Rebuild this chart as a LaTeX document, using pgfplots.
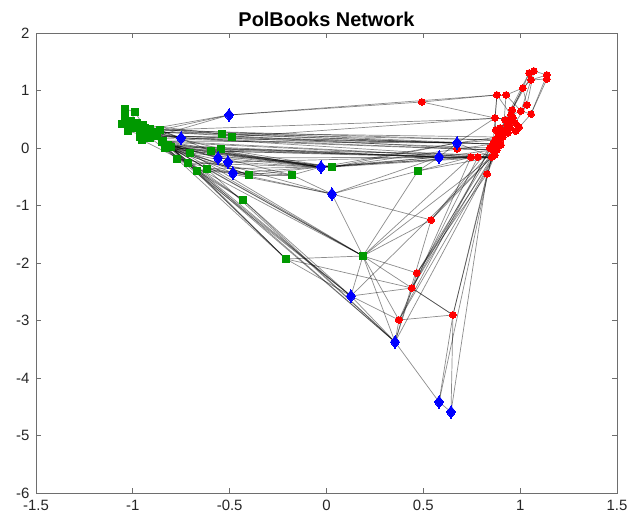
\documentclass[border=0pt]{standalone}
\usepackage{pgfplots}
\pgfplotsset{compat=1.18}
\usepackage{fontspec}
\setmainfont{Liberation Sans}
\definecolor{gnode}{RGB}{0,153,0}
\definecolor{rnode}{RGB}{255,0,0}
\definecolor{bnode}{RGB}{0,0,255}
\definecolor{axgray}{RGB}{110,110,110}
\begin{document}
\begin{tikzpicture}
\begin{axis}[
  at={(0,0)}, anchor=south west,
  scale only axis, width=581bp, height=460bp,
  xmin=-1.5, xmax=1.5, ymin=-6, ymax=2,
  xtick={-1.5,-1,-0.5,0,0.5,1,1.5},
  ytick={-6,-5,-4,-3,-2,-1,0,1,2},
  tick align=inside, major tick length=5bp,
  axis line style={draw=axgray, line width=0.8bp},
  tick style={draw=axgray, line width=0.8bp},
  /pgf/number format/assume math mode=true,
  ticklabel style={font=\fontsize{15}{17}\selectfont, text=black!85},
  xticklabel style={yshift=-4bp},
  yticklabel style={xshift=-3bp},
  title={PolBooks Network},
  title style={font=\fontsize{20}{23}\selectfont\bfseries, yshift=-3bp},
  clip=true,
]
% edges: x y -> x2 y2
\addplot[no markers, draw=black, draw opacity=0.45, line width=0.7bp,
  quiver={u=\thisrow{x2}-\thisrow{x}, v=\thisrow{y2}-\thisrow{y}}]
table {
x y x2 y2
-1.040 0.678 -0.989 0.626
-1.040 0.678 -1.040 0.539
-0.989 0.626 -1.009 0.470
-1.040 0.539 -1.009 0.470
-1.040 0.539 -1.056 0.417
-1.009 0.470 -0.978 0.435
-1.056 0.417 -1.020 0.400
-0.978 0.435 -0.947 0.400
-0.947 0.400 -0.911 0.330
-0.999 0.348 -0.963 0.296
-0.963 0.296 -0.927 0.226
-0.911 0.330 -0.860 0.313
-0.953 0.139 -0.927 0.226
-0.875 0.209 -0.896 0.278
-0.875 0.209 -0.844 0.122
-0.844 0.122 -0.823 0.035
-0.823 0.035 -0.834 0.000
-0.896 0.278 -0.860 0.313
-0.849 0.104 -0.818 0.052
-0.927 0.226 -0.911 0.174
-0.911 0.174 -0.963 0.191
-1.020 0.400 -0.999 0.348
-0.983 0.383 -0.937 0.348
-1.025 0.296 -0.963 0.296
-0.989 0.626 -0.947 0.400
-1.009 0.470 -0.896 0.278
-1.056 0.417 -0.875 0.209
-1.025 0.296 -0.844 0.122
-0.999 0.348 -0.849 0.104
-1.040 0.539 -0.860 0.313
-0.911 0.330 -0.751 0.174
-0.875 0.209 -0.751 0.174
-0.896 0.278 -0.751 0.174
-0.860 0.313 -0.751 0.174
-0.875 0.209 -0.705 -0.087
-0.844 0.122 -0.705 -0.087
-0.823 0.035 -0.772 -0.191
-0.818 0.052 -0.715 -0.261
-0.834 0.000 -0.669 -0.400
-0.803 0.017 -0.617 -0.365
-0.860 0.313 -0.596 -0.052
-0.896 0.278 -0.545 -0.017
-0.911 0.330 -0.540 0.243
-0.875 0.209 -0.488 0.191
-0.947 0.400 -0.540 0.243
-0.823 0.035 -0.545 -0.017
-0.927 0.226 -0.772 -0.191
-0.849 0.104 -0.617 -0.365
-0.953 0.139 -0.715 -0.261
-0.834 0.000 -0.400 -0.470
-0.818 0.052 -0.400 -0.470
-0.803 0.017 -0.400 -0.470
-0.772 -0.191 -0.715 -0.261
-0.715 -0.261 -0.669 -0.400
-0.669 -0.400 -0.617 -0.365
-0.596 -0.052 -0.545 -0.017
-0.540 0.243 -0.488 0.191
-0.617 -0.365 -0.400 -0.470
-0.844 0.122 -0.560 -0.174
-0.818 0.052 -0.560 -0.174
-0.834 0.000 -0.509 -0.243
-0.823 0.035 -0.483 -0.435
-0.560 -0.174 -0.028 -0.330
-0.509 -0.243 -0.028 -0.330
-0.483 -0.435 -0.400 -0.470
-0.483 -0.435 -0.028 -0.330
-0.509 -0.243 0.581 -0.157
-0.560 -0.174 0.854 -0.157
-0.911 0.330 -0.503 0.574
-0.860 0.313 -0.503 0.574
-0.875 0.209 -0.503 0.574
-0.503 0.574 0.493 0.800
-0.503 0.574 0.880 0.922
0.493 0.800 0.880 0.922
0.493 0.800 0.870 0.522
-0.488 0.191 0.870 0.522
-0.860 0.313 0.963 0.522
-0.911 0.330 0.860 0.070
-0.860 0.313 0.870 0.139
-0.896 0.278 0.885 0.191
-0.875 0.209 0.854 -0.157
-0.963 0.296 0.860 -0.035
-0.927 0.226 0.844 0.000
-0.540 0.243 0.870 0.139
-0.488 0.191 0.860 0.070
-0.545 -0.017 0.870 -0.122
-0.596 -0.052 0.854 -0.157
-0.875 0.209 0.674 0.087
-0.896 0.278 0.674 0.087
-0.844 0.122 0.674 0.087
-0.540 0.243 0.674 0.087
-0.823 0.035 0.581 -0.157
-0.818 0.052 0.581 -0.157
-0.834 0.000 0.581 -0.157
-0.596 -0.052 0.581 -0.157
-0.545 -0.017 0.581 -0.157
-0.849 0.104 0.746 -0.157
-0.844 0.122 0.782 -0.157
-0.911 0.174 0.674 -0.017
-0.751 0.174 0.860 -0.035
-0.751 0.174 0.674 0.087
-0.844 0.122 -0.028 -0.330
-0.823 0.035 -0.028 -0.330
-0.849 0.104 -0.028 -0.330
-0.818 0.052 -0.028 -0.330
-0.834 0.000 -0.028 -0.330
-0.803 0.017 -0.028 -0.330
-0.705 -0.087 -0.028 -0.330
-0.715 -0.261 -0.028 -0.330
-0.617 -0.365 -0.028 -0.330
-0.400 -0.470 -0.028 -0.330
-0.823 0.035 0.028 -0.330
-0.834 0.000 0.028 -0.330
-0.596 -0.052 0.028 -0.330
-0.545 -0.017 0.028 -0.330
-0.818 0.052 -0.178 -0.470
-0.772 -0.191 -0.178 -0.470
-0.669 -0.400 -0.178 -0.470
-0.400 -0.470 -0.178 -0.470
-0.178 -0.470 -0.028 -0.330
-0.178 -0.470 0.028 -0.800
-0.028 -0.330 0.674 0.087
-0.028 -0.330 0.581 -0.157
-0.028 -0.330 0.746 -0.157
-0.028 -0.330 0.782 -0.157
0.028 -0.330 0.674 0.087
0.028 -0.330 0.854 -0.157
0.028 -0.330 0.581 -0.157
0.028 -0.330 0.860 0.070
-0.028 -0.330 0.028 -0.330
0.472 -0.400 0.581 -0.157
0.472 -0.400 0.854 -0.157
0.472 -0.400 0.746 -0.157
0.472 -0.400 0.188 -1.878
0.028 -0.800 0.540 -1.252
0.028 -0.800 0.188 -1.878
0.028 -0.800 0.581 -0.157
0.028 -0.800 0.472 -0.400
-0.834 0.000 0.028 -0.800
-0.715 -0.261 0.028 -0.800
-0.617 -0.365 0.028 -0.800
-0.834 0.000 -0.431 -0.904
-0.823 0.035 -0.431 -0.904
-0.669 -0.400 -0.431 -0.904
-0.818 0.052 -0.209 -1.930
-0.834 0.000 -0.209 -1.930
-0.803 0.017 -0.209 -1.930
-0.669 -0.400 -0.209 -1.930
-0.844 0.122 0.188 -1.878
-0.823 0.035 0.188 -1.878
-0.715 -0.261 0.188 -1.878
-0.705 -0.087 0.188 -1.878
-0.617 -0.365 0.188 -1.878
-0.834 0.000 0.126 -2.574
-0.818 0.052 0.126 -2.574
-0.669 -0.400 0.126 -2.574
-0.431 -0.904 0.126 -2.574
-0.823 0.035 0.354 -3.374
-0.803 0.017 0.354 -3.374
-0.617 -0.365 0.354 -3.374
-0.431 -0.904 0.354 -3.374
-0.209 -1.930 0.188 -1.878
-0.209 -1.930 0.126 -2.574
-0.209 -1.930 0.441 -2.435
0.188 -1.878 0.467 -2.174
0.188 -1.878 0.374 -2.991
0.188 -1.878 0.126 -2.574
0.188 -1.878 0.354 -3.374
0.188 -1.878 0.540 -1.252
0.188 -1.878 0.746 -0.157
0.188 -1.878 0.854 -0.157
0.188 -1.878 0.653 -2.904
0.540 -1.252 0.854 -0.157
0.540 -1.252 0.860 0.070
0.467 -2.174 0.829 -0.452
0.467 -2.174 0.870 -0.122
0.467 -2.174 0.860 -0.035
0.441 -2.435 0.126 -2.574
0.441 -2.435 0.854 -0.157
0.441 -2.435 0.653 -2.904
0.441 -2.435 0.782 -0.157
0.374 -2.991 0.653 -2.904
0.374 -2.991 0.354 -3.374
0.374 -2.991 0.746 -0.157
0.374 -2.991 0.870 -0.122
0.374 -2.991 0.126 -2.574
0.653 -2.904 0.581 -4.417
0.653 -2.904 0.643 -4.591
0.653 -2.904 0.829 -0.452
0.653 -2.904 0.854 -0.157
0.354 -3.374 0.581 -4.417
0.581 -4.417 0.643 -4.591
0.581 -4.417 0.860 -0.035
0.643 -4.591 0.829 -0.452
0.354 -3.374 0.467 -2.174
0.354 -3.374 0.540 -1.252
0.126 -2.574 0.854 -0.157
0.354 -3.374 0.870 -0.122
0.844 0.000 0.374 -2.991
0.860 0.070 0.441 -2.435
0.880 0.052 0.540 -1.252
0.126 -2.574 0.354 -3.374
1.046 1.304 1.071 1.339
1.071 1.339 1.138 1.270
1.138 1.270 1.138 1.200
1.046 1.304 1.056 1.183
1.056 1.183 1.014 1.043
1.138 1.200 1.056 1.183
1.014 1.043 1.035 0.748
0.880 0.922 0.927 0.922
0.927 0.922 1.014 1.043
0.880 0.922 0.870 0.522
1.035 0.748 1.004 0.643
1.004 0.643 1.056 0.591
1.004 0.643 0.953 0.574
0.953 0.574 0.963 0.522
0.963 0.522 0.942 0.452
0.870 0.522 0.963 0.522
0.942 0.452 0.973 0.435
0.942 0.452 0.932 0.400
0.973 0.435 0.978 0.296
0.932 0.400 0.922 0.313
0.922 0.313 0.906 0.243
0.906 0.243 0.885 0.191
0.885 0.191 0.911 0.191
0.911 0.191 0.896 0.139
0.870 0.139 0.860 0.070
0.896 0.139 0.880 0.052
0.860 0.070 0.860 -0.035
0.880 0.052 0.870 -0.122
0.860 -0.035 0.854 -0.157
0.854 -0.157 0.746 -0.157
0.746 -0.157 0.782 -0.157
0.782 -0.157 0.870 -0.122
0.829 -0.452 0.870 -0.122
0.674 -0.017 0.674 0.087
0.674 -0.017 0.860 -0.035
0.958 0.661 1.014 1.043
0.958 0.661 0.953 0.574
0.922 0.487 0.942 0.452
0.947 0.348 0.896 0.348
0.937 0.261 0.911 0.191
0.875 0.313 0.906 0.243
0.994 0.365 0.978 0.296
0.901 0.052 0.880 0.052
0.880 -0.035 0.860 -0.035
0.844 0.000 0.860 0.070
1.056 0.591 0.978 0.296
1.138 1.270 1.056 0.591
1.071 1.339 1.035 0.748
0.880 0.922 0.953 0.574
0.927 0.922 1.004 0.643
0.870 0.522 0.870 0.139
1.035 0.748 0.973 0.435
1.056 1.183 1.004 0.643
1.046 1.304 0.860 0.070
1.071 1.339 0.870 0.139
0.880 0.922 0.860 0.070
0.927 0.922 0.911 0.191
1.138 1.200 1.056 0.591
1.014 1.043 0.885 0.191
0.953 0.574 0.896 0.139
0.963 0.522 0.880 0.052
1.046 1.304 1.014 1.043
1.138 1.270 1.056 1.183
0.674 0.087 0.860 0.070
0.674 0.087 0.885 0.191
0.674 0.087 0.854 -0.157
0.581 -0.157 0.860 -0.035
0.581 -0.157 0.854 -0.157
0.581 -0.157 0.746 -0.157
0.581 -0.157 0.674 0.087
0.674 0.087 0.870 0.522
0.674 0.087 0.870 0.139
};
% liberal (green squares)
\addplot[only marks, mark=square*, mark size=3.3bp,
  mark options={draw=gnode, fill=gnode, line width=0pt}]
table {
x y
-1.040 0.678
-0.989 0.626
-1.040 0.539
-1.009 0.470
-1.056 0.417
-0.978 0.435
-0.947 0.400
-0.999 0.348
-0.963 0.296
-0.911 0.330
-0.953 0.139
-0.875 0.209
-0.844 0.122
-0.823 0.035
-1.020 0.400
-0.927 0.226
-0.896 0.278
-0.860 0.313
-0.849 0.104
-0.818 0.052
-0.834 0.000
-0.705 -0.087
-0.772 -0.191
-0.715 -0.261
-0.669 -0.400
-0.617 -0.365
-0.596 -0.052
-0.545 -0.017
-0.540 0.243
-0.488 0.191
-0.400 -0.470
-0.178 -0.470
0.028 -0.330
0.472 -0.400
0.188 -1.878
-0.209 -1.930
-0.431 -0.904
-0.983 0.383
-0.937 0.348
-1.025 0.296
-0.911 0.174
-0.803 0.017
-0.963 0.191
};
% conservative (red circles)
\addplot[only marks, mark=*, mark size=3.4bp,
  mark options={draw=rnode, fill=rnode, line width=0pt}]
table {
x y
1.046 1.304
1.071 1.339
1.138 1.270
1.138 1.200
1.056 1.183
1.014 1.043
0.880 0.922
0.927 0.922
1.035 0.748
1.004 0.643
1.056 0.591
0.953 0.574
0.963 0.522
0.870 0.522
0.942 0.452
0.973 0.435
0.932 0.400
0.978 0.296
0.922 0.313
0.906 0.243
0.885 0.191
0.911 0.191
0.870 0.139
0.896 0.139
0.860 0.070
0.880 0.052
0.860 -0.035
0.870 -0.122
0.854 -0.157
0.746 -0.157
0.782 -0.157
0.829 -0.452
0.674 -0.017
0.493 0.800
0.540 -1.252
0.467 -2.174
0.441 -2.435
0.374 -2.991
0.653 -2.904
0.947 0.348
0.937 0.261
0.896 0.348
0.922 0.487
0.958 0.661
0.844 0.000
0.875 0.313
0.994 0.365
0.901 0.052
0.880 -0.035
};
% neutral (blue diamonds)
\addplot[only marks, mark=diamond*, mark size=6.2bp,
  mark options={draw=bnode, fill=bnode, line width=0pt}]
table {
x y
-0.503 0.574
-0.751 0.174
-0.560 -0.174
-0.509 -0.243
-0.483 -0.435
-0.028 -0.330
0.028 -0.800
0.674 0.087
0.581 -0.157
0.126 -2.574
0.354 -3.374
0.581 -4.417
0.643 -4.591
};
\end{axis}
\pgfresetboundingbox
\path (-36bp,-23bp) rectangle (594bp,493bp);
\end{tikzpicture}
\end{document}
